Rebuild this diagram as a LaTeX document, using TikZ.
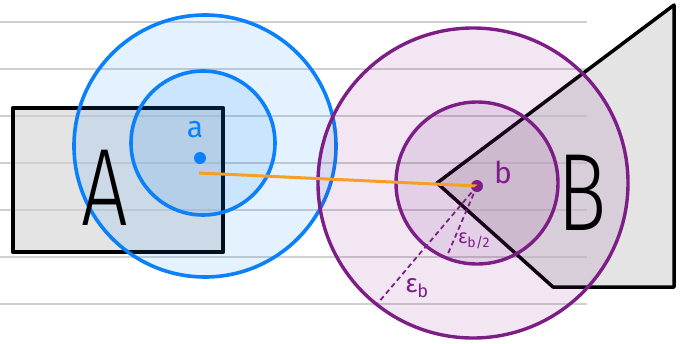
\documentclass[tikz,border=0pt]{standalone}
\usepackage{fontspec}
\setmainfont{Fira Sans}
\newfontfamily\handfont{Fira Sans Light}
\definecolor{ablue}{RGB}{10,128,250}
\definecolor{bpurple}{RGB}{125,30,135}
\definecolor{orng}{RGB}{245,160,35}
\definecolor{shapegray}{RGB}{228,228,228}
\definecolor{rulegray}{RGB}{208,208,208}
\begin{document}
\begin{tikzpicture}[x=1pt,y=-1pt,
  ruleline/.style={draw=rulegray, line width=1.8pt},
  shapeedge/.style={draw=black, line width=3.5pt, line join=round},
  bluering/.style={circle, draw=ablue, line width=3.6pt, fill=ablue, fill opacity=0.11, draw opacity=1, inner sep=0pt},
  purplering/.style={circle, draw=bpurple, line width=3.4pt, fill=bpurple, fill opacity=0.11, draw opacity=1, inner sep=0pt},
  dotnode/.style={circle, inner sep=0pt, minimum size=12pt},
  radius line/.style={draw=bpurple, line width=1.8pt, dash pattern=on 5pt off 3.5pt},
  biglabel/.style={font=\handfont\fontsize{110}{110}\selectfont, inner sep=0pt},
  pointlabel/.style={font=\fontsize{30}{30}\selectfont, inner sep=0pt},
  epslabel/.style={text=bpurple, inner sep=0pt}]
\useasboundingbox (0,0) rectangle (680,343);
% shape fills
\node[fill=shapegray, minimum width=210pt, minimum height=144pt, inner sep=0pt] (A) at (118,180) {};
\coordinate (p1) at (437,183);
\coordinate (p2) at (674,5);
\coordinate (p3) at (674,287);
\coordinate (p4) at (553,287);
\fill[shapegray] (p1) -- (p2) -- (p3) -- (p4) -- cycle;
% ruled lines
\foreach \yy in {22,69,116,163,210,257,304} {
  \draw[ruleline] (0,\yy) -- (587,\yy);
}
% shape outlines
\draw[shapeedge] (A.north west) rectangle (A.south east);
\draw[shapeedge] (p1) -- (p2) -- (p3) -- (p4) -- cycle;
% circles
\node[bluering, minimum size=262pt] (aout) at (205,146) {};
\node[bluering, minimum size=144pt] (ain) at (203,143) {};
\node[purplering, minimum size=310pt] (bout) at (473,183) {};
\node[purplering, minimum size=162pt] (bin) at (477,183) {};
% points
\node[dotnode, fill=ablue] (adot) at (200,158) {};
\node[dotnode, fill=bpurple] (bdot) at (477,186) {};
\coordinate (astart) at (199,173);
\draw[orng, line width=3pt] (astart) -- (bdot.center);
% radii
\coordinate (rout) at (378,303);
\coordinate (rin) at (447,256);
\draw[radius line] (bdot.center) -- (rout);
\draw[radius line] (bdot.center) -- (rin);
% labels
\node[biglabel, text=black, xscale=0.75] (Alab) at (105,188) {A};
\node[biglabel, text=black, xscale=0.75] (Blab) at (582,193) {B};
\node[pointlabel, text=ablue] (alab) at (195,130) {a};
\node[pointlabel, text=bpurple] (blab) at (503,172) {b};
\node[epslabel, font=\fontsize{26}{26}\selectfont] (eb) at (417,288) {ε\textsubscript{b}};
\node[epslabel, font=\fontsize{20}{20}\selectfont] (eb2) at (474,241) {ε\textsubscript{b/2}};
\end{tikzpicture}
\end{document}
